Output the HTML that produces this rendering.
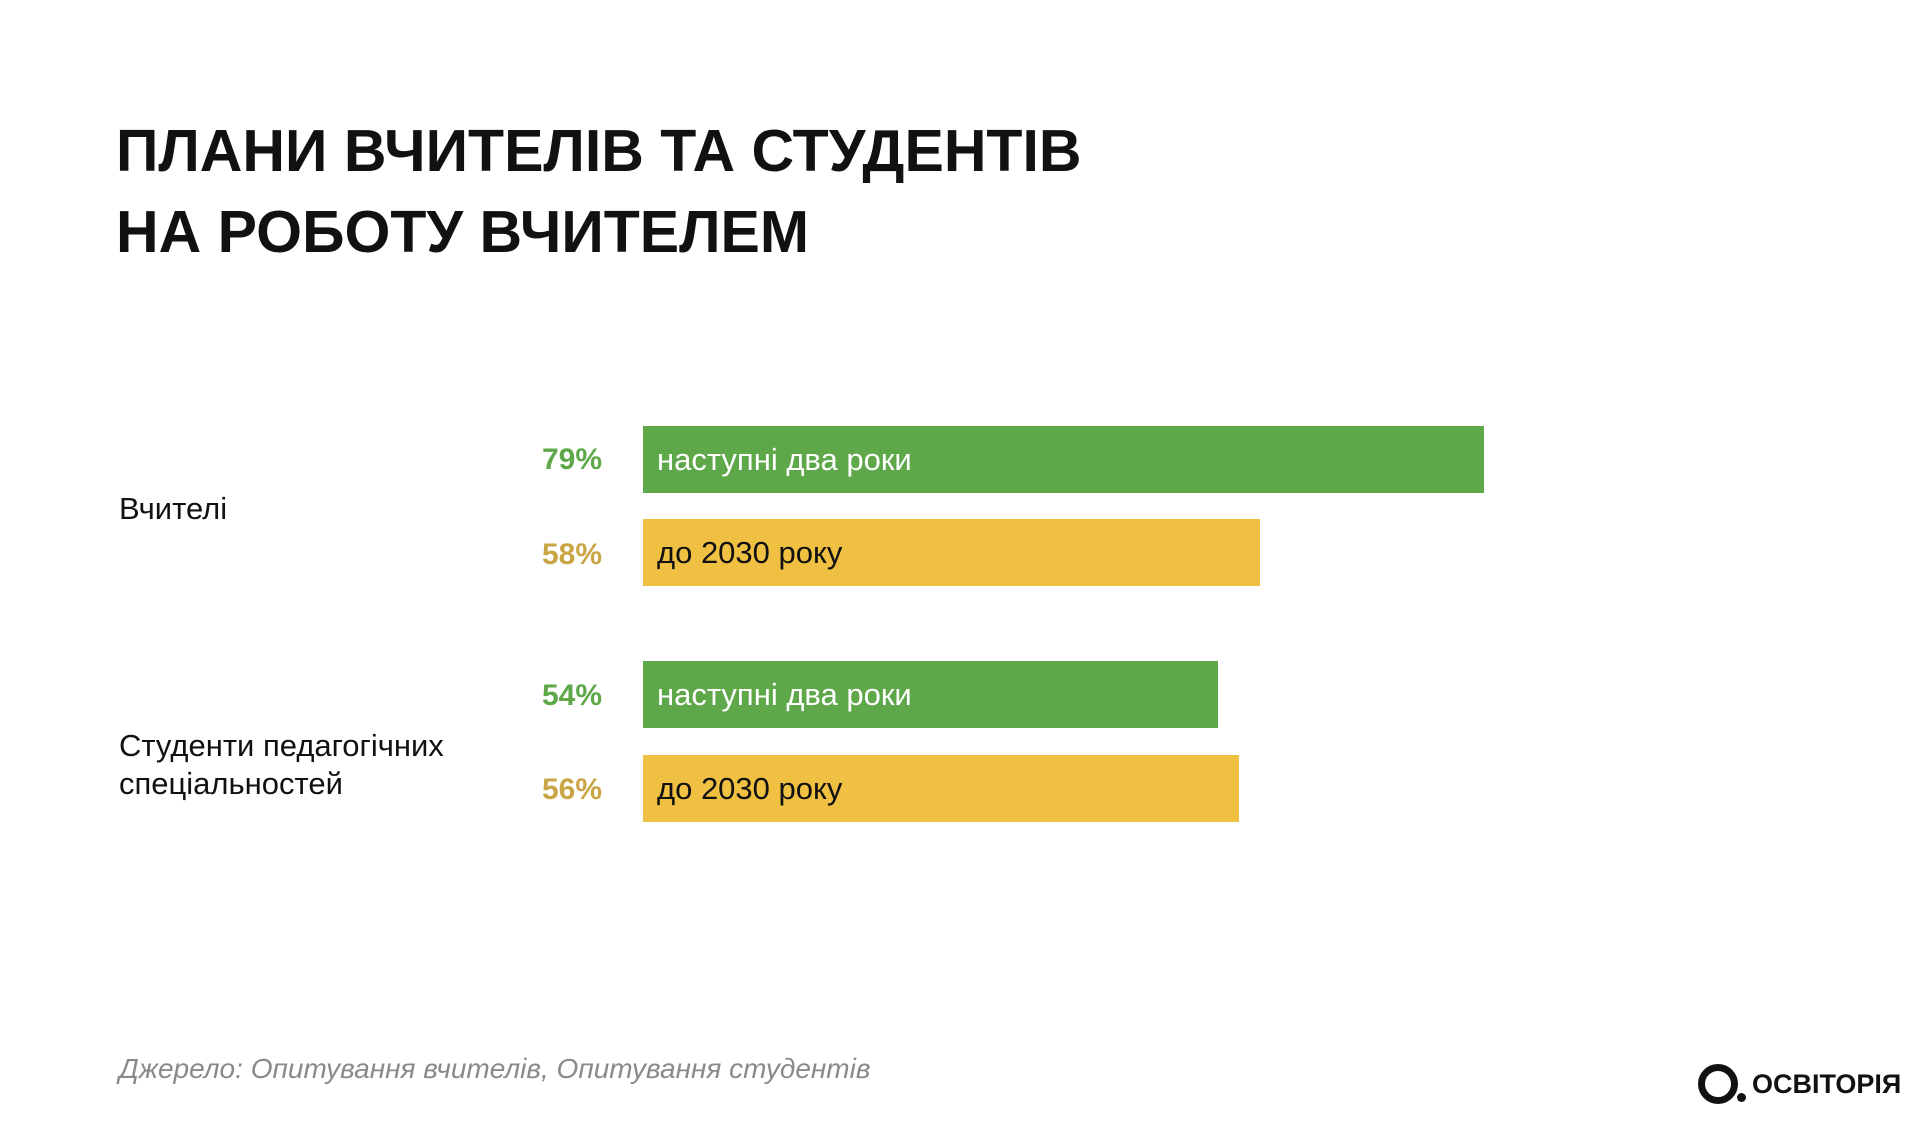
<!DOCTYPE html>
<html><head><meta charset="utf-8"><style>
body{margin:0;width:1920px;height:1121px;background:#fff;position:relative;overflow:hidden;font-family:"Liberation Sans",sans-serif;}
.t{position:absolute;left:116px;font-weight:bold;font-size:59px;color:#111;white-space:nowrap;line-height:1}
.bar{position:absolute;left:643px;height:67px;}
.g{background:#5ea84a;color:#fff}.y{background:#f0c043;color:#111}
.bt{position:absolute;left:14px;top:0;line-height:67px;font-size:31px}
.p{position:absolute;right:1318px;font-weight:bold;font-size:30px;line-height:67px}
.lab{position:absolute;left:119px;font-size:31px;color:#111;line-height:38px}
</style></head><body>
<div class="t" style="top:122px">ПЛАНИ ВЧИТЕЛІВ ТА СТУДЕНТІВ</div>
<div class="t" style="top:203px">НА РОБОТУ ВЧИТЕЛЕМ</div>
<div class="lab" style="top:490px">Вчителі</div>
<div class="lab" style="top:727px">Студенти педагогічних<br>спеціальностей</div>
<div class="p" style="top:426px;color:#5ea84a">79%</div>
<div class="p" style="top:521px;color:#c9a545">58%</div>
<div class="p" style="top:662px;color:#5ea84a">54%</div>
<div class="p" style="top:756px;color:#c9a545">56%</div>
<div class="bar g" style="top:426px;width:841px"><span class="bt">наступні два роки</span></div>
<div class="bar y" style="top:519px;width:617px"><span class="bt">до 2030 року</span></div>
<div class="bar g" style="top:661px;width:575px"><span class="bt">наступні два роки</span></div>
<div class="bar y" style="top:755px;width:596px"><span class="bt">до 2030 року</span></div>
<div style="position:absolute;left:119px;top:1053px;font-size:28px;font-style:italic;color:#8a8a8a">Джерело: Опитування вчителів, Опитування студентів</div>
<div style="position:absolute;left:1698px;top:1064px;width:26px;height:26px;border:7px solid #111;border-radius:50%"></div>
<div style="position:absolute;left:1737px;top:1093px;width:9px;height:9px;background:#111;border-radius:50%"></div>
<div style="position:absolute;left:1752px;top:1069px;font-size:27px;font-weight:bold;color:#111">ОСВІТОРІЯ</div>
</body></html>
